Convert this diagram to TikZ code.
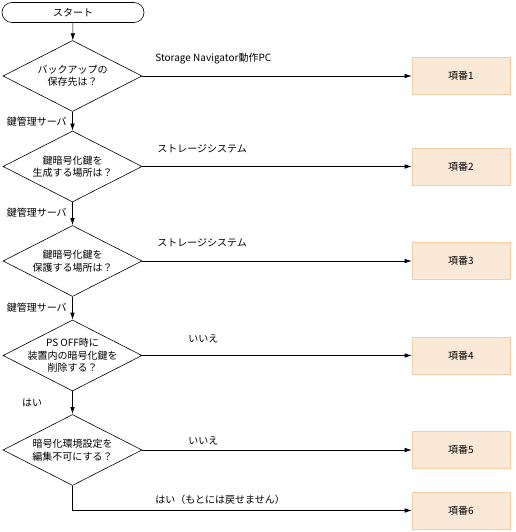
\documentclass[tikz,border=0pt]{standalone}
\usepackage{fontspec}
\setmainfont{Noto Sans CJK JP}
\usetikzlibrary{shapes.geometric,arrows.meta}
\definecolor{itemfill}{RGB}{251,233,216}
\definecolor{itemline}{RGB}{244,206,168}
\tikzset{
  startbox/.style={draw, rounded corners=10pt, minimum width=142pt, minimum height=20pt, inner sep=0pt},
  decision/.style={draw, diamond, minimum width=139pt, minimum height=71pt, inner sep=0pt},
  itembox/.style={draw=itemline, fill=itemfill, minimum width=98pt, minimum height=37pt, inner sep=0pt},
  flow/.style={-{Latex[length=7pt,width=4.5pt]}},
  note/.style={inner sep=0pt},
}
\begin{document}
\begin{tikzpicture}[x=1pt, y=-1pt, every node/.style={font=\fontsize{10}{12.5}\selectfont}, line width=0.6pt]
  \useasboundingbox (0,0) rectangle (515,532);
  % Questions
  \node[startbox] (start) at (73,12.5) {スタート};
  \node[decision, label={[align=center]center:バックアップの\\保存先は？}] (d1) at (72.5,76) {};
  \node[decision, label={[align=center]center:鍵暗号化鍵を\\生成する場所は？}] (d2) at (72.5,166.5) {};
  \node[decision, label={[align=center]center:鍵暗号化鍵を\\保護する場所は？}] (d3) at (72.5,261) {};
  \node[decision, label={[align=center]center:PS OFF時に\\装置内の暗号化鍵を\\削除する？}] (d4) at (72.5,355.5) {};
  \node[decision, label={[align=center]center:暗号化環境設定を\\編集不可にする？}] (d5) at (72.5,450) {};

  % Items
  \node[itembox] (b1) at (461,76) {項番1};
  \node[itembox] (b2) at (461,166.5) {項番2};
  \node[itembox] (b3) at (461,261) {項番3};
  \node[itembox] (b4) at (461,355.5) {項番4};
  \node[itembox] (b5) at (461,450) {項番5};
  \node[itembox] (b6) at (461,510.5) {項番6};

  % Flow
  \draw[flow] (start) -- (d1);
  \draw[flow] (d1) -- (d2);
  \draw[flow] (d2) -- (d3);
  \draw[flow] (d3) -- (d4);
  \draw[flow] (d4) -- (d5);
  \foreach \i in {1,...,5} {
    \draw[flow] (d\i.east) -- (b\i.west);
  }
  \draw[flow] (d5.south) |- (b6.west);

  % Labels
  \node[note, anchor=east] (k1) at (67,122) {鍵管理サーバ};
  \node[note, anchor=east] (k2) at (67,213) {鍵管理サーバ};
  \node[note, anchor=east] (k3) at (67,308) {鍵管理サーバ};
  \node[note] (y4) at (32,403) {はい};
  \node[note, anchor=west] (l1) at (155,59) {Storage Navigator動作PC};
  \node[note, anchor=west] (l2) at (157,148.5) {ストレージシステム};
  \node[note, anchor=west] (l3) at (157,243) {ストレージシステム};
  \node[note, anchor=west] (l4) at (188,339) {いいえ};
  \node[note, anchor=west] (l5) at (188,440.5) {いいえ};
  \node[note, anchor=west] (l6) at (155,500) {はい（もとには戻せません）};
\end{tikzpicture}
\end{document}
